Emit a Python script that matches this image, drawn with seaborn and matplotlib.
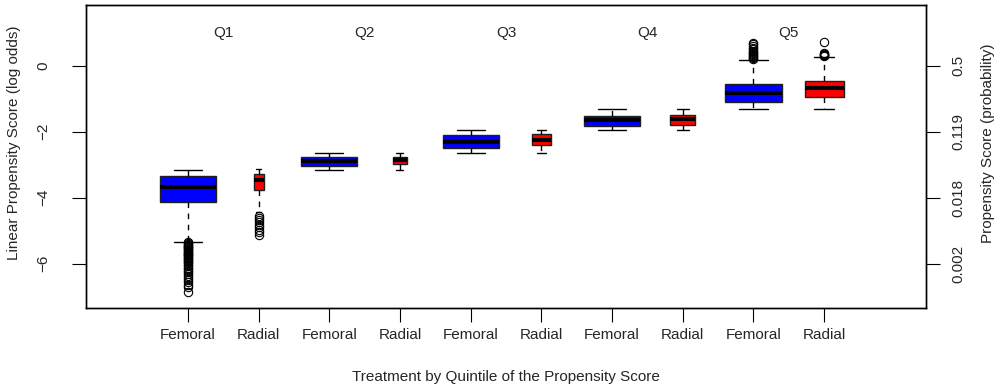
import matplotlib
matplotlib.use("Agg")
import matplotlib.pyplot as plt
import numpy as np
import seaborn as sns

# Per-quintile box statistics (linear propensity score, log odds)
quintiles = ["Q1", "Q2", "Q3", "Q4", "Q5"]
treatments = ["Femoral", "Radial"]

femoral_whishi = [-3.17, -2.64, -1.96, -1.32, 0.18]
femoral_q3 = [-3.34, -2.76, -2.11, -1.52, -0.56]
femoral_med = [-3.67, -2.88, -2.30, -1.65, -0.83]
femoral_q1 = [-4.14, -3.03, -2.48, -1.83, -1.09]
femoral_whislo = [-5.33, -3.16, -2.64, -1.96, -1.32]
femoral_n = [2400, 2390, 2380, 2400, 2410]

radial_whishi = [-3.14, -2.64, -1.96, -1.32, 0.27]
radial_q3 = [-3.27, -2.76, -2.08, -1.50, -0.46]
radial_med = [-3.46, -2.86, -2.25, -1.62, -0.68]
radial_q1 = [-3.78, -2.99, -2.40, -1.81, -0.96]
radial_whislo = [-4.42, -3.16, -2.64, -1.96, -1.32]
radial_n = [75, 150, 265, 460, 1130]

femoral_fliers = [
    [-5.34, -5.37, -5.40, -5.42, -5.45, -5.48, -5.50, -5.53, -5.56, -5.58,
     -5.61, -5.64, -5.66, -5.69, -5.72, -5.75, -5.77, -5.80, -5.83, -5.86,
     -5.89, -5.92, -5.95, -5.99, -6.03, -6.08, -6.12, -6.16, -6.21, -6.26,
     -6.31, -6.36, -6.42, -6.48, -6.55, -6.63, -6.72, -6.85],
    [], [], [],
    [0.20, 0.23, 0.26, 0.29, 0.32, 0.35, 0.38, 0.42, 0.46, 0.50, 0.55,
     0.60, 0.65, 0.70],
]
radial_fliers = [
    [-4.55, -4.62, -4.68, -4.75, -4.82, -4.90, -4.97, -5.05, -5.13],
    [], [], [],
    [0.30, 0.32, 0.34, 0.36, 0.38, 0.72],
]

y_ticks = [0, -2, -4, -6]
prob_labels = ["0.5", "0.119", "0.018", "0.002"]

fill_colors = {"Femoral": "#0000FF", "Radial": "#FF0000"}

sns.set_style("white")
plt.rcParams["font.family"] = ["Liberation Sans", "DejaVu Sans"]
plt.rcParams["axes.unicode_minus"] = True

FS = 11

fig = plt.figure(figsize=(10.04, 3.87), dpi=100)
ax = fig.add_axes([0.0857, 0.2034, 0.8366, 0.7845])

# Assemble box statistics in treatment order within each quintile
stats, colors, counts = [], [], []
for i in range(len(quintiles)):
    stats.append(dict(med=femoral_med[i], q1=femoral_q1[i], q3=femoral_q3[i],
                      whislo=femoral_whislo[i], whishi=femoral_whishi[i],
                      fliers=femoral_fliers[i]))
    colors.append(fill_colors["Femoral"])
    counts.append(femoral_n[i])
    stats.append(dict(med=radial_med[i], q1=radial_q1[i], q3=radial_q3[i],
                      whislo=radial_whislo[i], whishi=radial_whishi[i],
                      fliers=radial_fliers[i]))
    colors.append(fill_colors["Radial"])
    counts.append(radial_n[i])

counts = np.array(counts, dtype=float)
widths = 0.8 * np.sqrt(counts / counts.max())
positions = np.arange(1, len(stats) + 1)

bp = ax.bxp(
    stats, positions=positions, widths=widths, capwidths=widths / 2,
    patch_artist=True, showfliers=True,
    boxprops=dict(edgecolor="#202020", linewidth=1.0),
    medianprops=dict(color="black", linewidth=3.0, solid_capstyle="butt"),
    whiskerprops=dict(color="black", linewidth=1.0, linestyle=(0, (4, 4))),
    capprops=dict(color="black", linewidth=1.0),
    flierprops=dict(marker="o", markersize=6, markerfacecolor="none",
                    markeredgecolor="black", markeredgewidth=0.8,
                    linestyle="none"),
)
for patch, c in zip(bp["boxes"], colors):
    patch.set_facecolor(c)

ax.set_xlim(-0.44, 11.44)
ax.set_ylim(-7.35, 1.85)

ax.set_xticks(positions)
ax.set_xticklabels([treatments[k % 2] for k in range(len(stats))])
ax.set_yticks(y_ticks)
ax.set_yticklabels([f"{v:d}".replace("-", "\u2212") for v in y_ticks],
                   rotation=90, va="center")

ax.tick_params(axis="both", which="major", direction="out", length=10,
               width=0.8, color="black", labelsize=FS, left=True, bottom=True)
ax.tick_params(axis="y", pad=16)
ax.tick_params(axis="x", pad=4)

for sp in ax.spines.values():
    sp.set_color("black")
    sp.set_linewidth(1.0)

for i, q in enumerate(quintiles):
    ax.text(2 * i + 1.5, 1.0, q, ha="center", va="center", fontsize=FS)

ax.set_xlabel("Treatment by Quintile of the Propensity Score", fontsize=FS)
ax.xaxis.set_label_coords(0.5, -0.203)
ax.set_ylabel("Linear Propensity Score (log odds)", fontsize=FS)
ax.yaxis.set_label_coords(-0.078, 0.545)

ax2 = ax.twinx()
ax2.set_ylim(ax.get_ylim())
ax2.set_yticks(y_ticks)
ax2.set_yticklabels(prob_labels, rotation=90, va="center")
ax2.tick_params(axis="y", direction="out", length=10, width=0.8,
                color="black", labelsize=FS, right=True, pad=8)
ax2.set_ylabel("Propensity Score (probability)", fontsize=FS)
ax2.yaxis.set_label_coords(1.066, 0.545)
for sp in ax2.spines.values():
    sp.set_color("black")
    sp.set_linewidth(1.0)

fig.savefig("out.png", dpi=100, facecolor="white")
